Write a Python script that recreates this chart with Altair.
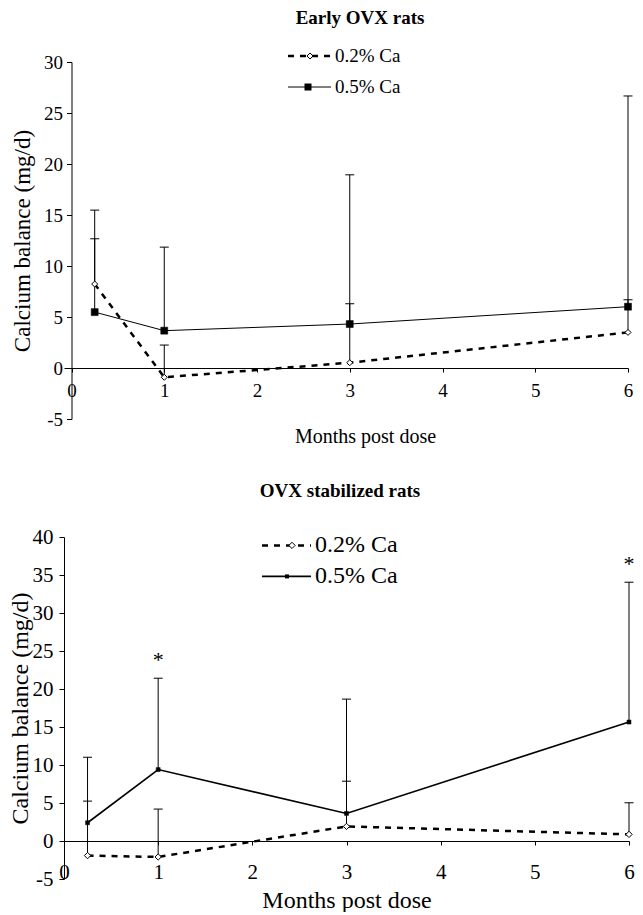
import altair as alt
import pandas as pd

FONT = "Liberation Serif, Times New Roman, Times, DejaVu Serif, serif"

# ---- data ----
months = [0.25, 1, 3, 6]
series_names = ["0.2% Ca", "0.5% Ca"]

early_low = [8.23, -0.91, 0.52, 3.49]
early_low_err = [12.67, 2.25, 6.30, 6.69]
early_high = [5.48, 3.66, 4.31, 6.01]
early_high_err = [15.48, 11.85, 18.94, 26.67]

stab_low = [-1.92, -2.10, 1.92, 0.87]
stab_low_err = [5.25, 4.20, 7.87, 5.03]
stab_high = [2.40, 9.40, 3.63, 15.65]
stab_high_err = [11.02, 21.42, 18.67, 34.05]

star_months = [1, 6]
star_values = [24.5, 37.1]

x_ticks = [0, 1, 2, 3, 4, 5, 6]
early_y_ticks = [-5, 0, 5, 10, 15, 20, 25, 30]
stab_y_ticks = [-5, 0, 5, 10, 15, 20, 25, 30, 35, 40]

titles = ["Early OVX rats", "OVX stabilized rats"]


def panel(low, low_err, high, high_err, ydom, yticks, s, stars=None):
    df_low = pd.DataFrame({"month": months, "value": low, "upper": low_err})
    df_high = pd.DataFrame({"month": months, "value": high, "upper": high_err})

    x_enc = alt.X(
        "month:Q",
        scale=alt.Scale(domain=[s["xmin"], 6], nice=False, zero=False),
        axis=alt.Axis(
            values=x_ticks, format="d", title="Months post dose",
            offset=s["xoff"], tickSize=4, labelPadding=s["xlp"],
            labelFontSize=s["tick_fs"], titleFontSize=s["xt_fs"],
            titlePadding=s["xtp"], titleX=s["xtx"], labelFlush=False,
            labelOverlap=False, grid=False, labelFont=FONT, titleFont=FONT,
        ),
    )

    def y_enc(field):
        return alt.Y(
            field,
            scale=alt.Scale(domain=ydom, nice=False, zero=False),
            axis=alt.Axis(
                values=yticks, title="Calcium balance (mg/d)",
                labelExpr="datum.value < 0 ? '-' + abs(datum.value) : datum.label",
                offset=s["yoff"], tickSize=5, labelPadding=s["ylp"],
                labelFontSize=s["tick_fs"], titleFontSize=s["yt_fs"],
                titlePadding=s["ytp"], labelFlush=False, labelOverlap=False,
                grid=False, labelFont=FONT, titleFont=FONT,
            ),
        )

    layers = []
    for df in (df_low, df_high):
        layers.append(
            alt.Chart(df).mark_rule(color="black", strokeWidth=1).encode(
                x=x_enc, y=y_enc("value:Q"), y2="upper:Q"
            )
        )
        layers.append(
            alt.Chart(df).mark_tick(
                orient="horizontal", color="black", thickness=1, size=9, opacity=1
            ).encode(x=x_enc, y=y_enc("upper:Q"))
        )
    layers.append(
        alt.Chart(df_low).mark_line(
            color="black", strokeWidth=2.5, strokeDash=[6, 6]
        ).encode(x=x_enc, y=y_enc("value:Q"))
    )
    layers.append(
        alt.Chart(df_high).mark_line(
            color="black", strokeWidth=s["solid_w"]
        ).encode(x=x_enc, y=y_enc("value:Q"))
    )
    layers.append(
        alt.Chart(df_low).mark_point(
            shape="diamond", filled=True, fill="white", stroke="black",
            strokeWidth=1, size=s["dia"], opacity=1
        ).encode(x=x_enc, y=y_enc("value:Q"))
    )
    layers.append(
        alt.Chart(df_high).mark_point(
            shape="square", filled=True, fill="black", stroke="black",
            strokeWidth=0.5, size=s["sq"], opacity=1
        ).encode(x=x_enc, y=y_enc("value:Q"))
    )
    if stars is not None:
        df_star = pd.DataFrame({"month": stars[0], "value": stars[1]})
        layers.append(
            alt.Chart(df_star).mark_text(
                text="*", font=FONT, fontSize=22, color="black", dy=5
            ).encode(x=x_enc, y=y_enc("value:Q"))
        )

    # legend (drawn inside the panel)
    for i, name in enumerate(series_names):
        base = alt.Chart(alt.Data(values=[{"label": name}]))
        ly = s["leg_y"][i]
        rule_kw = dict(color="black", strokeWidth=2.5 if i == 0 else s["solid_w"])
        if i == 0:
            rule_kw["strokeDash"] = [6, 6]
        layers.append(base.mark_rule(**rule_kw).encode(
            x=alt.value(s["leg_x1"]), x2=alt.value(s["leg_x2"]), y=alt.value(ly)))
        if i == 0:
            layers.append(base.mark_point(
                shape="diamond", filled=True, fill="white", stroke="black",
                strokeWidth=1, size=s["dia"], opacity=1
            ).encode(x=alt.value(s["leg_mx"][0]), y=alt.value(ly)))
        else:
            layers.append(base.mark_point(
                shape="square", filled=True, fill="black", size=s["sq"], opacity=1
            ).encode(x=alt.value(s["leg_mx"][1]), y=alt.value(ly)))
        layers.append(base.mark_text(
            align="left", baseline="middle", font=FONT,
            fontSize=s["leg_fs"], color="black"
        ).encode(x=alt.value(s["leg_tx"]), y=alt.value(ly), text="label:N"))

    # panel title
    layers.append(
        alt.Chart(alt.Data(values=[{"t": s["title"]}])).mark_text(
            align="center", baseline="middle", font=FONT, fontSize=19,
            fontWeight="bold", color="black"
        ).encode(x=alt.value(s["title_x"]), y=alt.value(s["title_y"]), text="t:N")
    )

    return alt.layer(*layers).properties(width=s["w"], height=s["h"])


top_style = dict(
    xmin=-0.081, w=564, h=357, xoff=-51, yoff=-7.5,
    xlp=9, xtp=26, xtx=301, ylp=4, ytp=9,
    tick_fs=19, xt_fs=20, yt_fs=23, solid_w=1,
    dia=36, sq=49,
    leg_y=[-6, 25], leg_x1=224, leg_x2=267, leg_mx=[246, 244], leg_tx=271,
    leg_fs=19, title=titles[0], title_x=296, title_y=-44.5,
)

bottom_style = dict(
    xmin=0, w=565, h=342, xoff=-38, yoff=0,
    xlp=16, xtp=6, xtx=282.5, ylp=6, ytp=0,
    tick_fs=21, xt_fs=24, yt_fs=24, solid_w=1.6,
    dia=40, sq=16,
    leg_y=[8.4, 39.4], leg_x1=198, leg_x2=247, leg_mx=[228, 223], leg_tx=251,
    leg_fs=24, title=titles[1], title_x=276, title_y=-45.6,
)

top = panel(early_low, early_low_err, early_high, early_high_err,
            [-5, 30], early_y_ticks, top_style)
bottom = panel(stab_low, stab_low_err, stab_high, stab_high_err,
               [-5, 40], stab_y_ticks, bottom_style,
               stars=(star_months, star_values))

chart = alt.vconcat(top, bottom, spacing=36).properties(
    padding={"left": 0, "top": 0, "right": 0, "bottom": 0}
).configure_view(stroke=None).configure_axis(
    domainColor="black", tickColor="black", labelColor="black",
    titleColor="black", labelFont=FONT, titleFont=FONT,
    titleFontWeight="normal", grid=False, domainWidth=1, tickWidth=1,
)

chart.save("out.html", embed_options={"renderer": "svg", "actions": False})
